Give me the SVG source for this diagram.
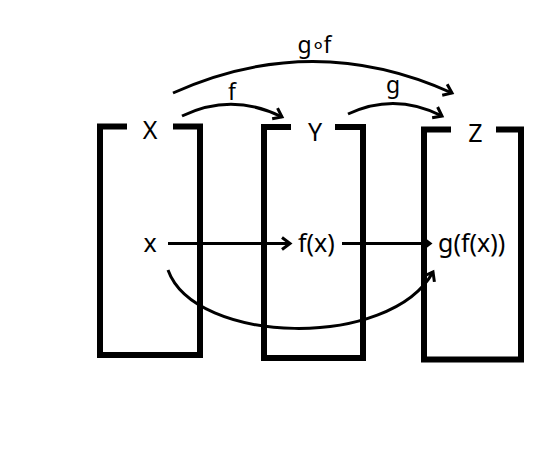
<svg xmlns="http://www.w3.org/2000/svg" width="546" height="450" viewBox="0 0 546 450">
<style>
.box{fill:none;stroke:#000;stroke-width:6;stroke-linejoin:miter}
.edge{fill:none;stroke:#000;stroke-width:3}
text{font-family:"Noto Sans","Open Sans",sans-serif;fill:#000}
.big{font-size:25px}
.lbl{font-size:23px}
</style>
<defs>
<marker id="ah" markerUnits="userSpaceOnUse" markerWidth="16" markerHeight="16" viewBox="0 0 16 16" refX="12" refY="8" orient="auto">
<path d="M4,2 L12,8 L4,14" fill="none" stroke="#000" stroke-width="3"/>
</marker>
</defs>
<rect width="546" height="450" fill="#fff"/>
<g id="nodeX">
<path class="box" d="M127,126.5 H100 V355 H200 V126.5 H173"/>
<text class="big" x="150" y="139" text-anchor="middle">X</text>
<text class="big" x="150" y="252" text-anchor="middle">x</text>
</g>
<g id="nodeY">
<path class="box" d="M291,127 H264 V358 H363 V127 H335"/>
<text class="big" x="315" y="141" text-anchor="middle">Y</text>
<text class="big" x="298" y="252">f(x)</text>
</g>
<g id="nodeZ">
<path class="box" d="M451,129.5 H424 V359.5 H521 V129.5 H496"/>
<text class="big" x="475.5" y="142" text-anchor="middle">Z</text>
<text class="big" x="438" y="252">g(f(x))</text>
</g>
<g id="connectors">
<path class="edge" d="M173,93 Q313,30 452,93" marker-end="url(#ah)"/>
<path class="edge" d="M182,116 Q232,92 282,117" marker-end="url(#ah)"/>
<path class="edge" d="M348,114 Q395,92 442,116" marker-end="url(#ah)"/>
<path class="edge" d="M168,243.5 H290" marker-end="url(#ah)"/>
<path class="edge" d="M342,243.5 H430" marker-end="url(#ah)"/>
<path class="edge" d="M168,270 C195,345 390,350 433,272" marker-end="url(#ah)"/>
<text class="lbl" x="314" y="53" text-anchor="middle" letter-spacing="-1">g∘f</text>
<text class="lbl" x="232" y="100" text-anchor="middle">f</text>
<text class="lbl" x="393" y="93" text-anchor="middle">g</text>
</g>
</svg>
